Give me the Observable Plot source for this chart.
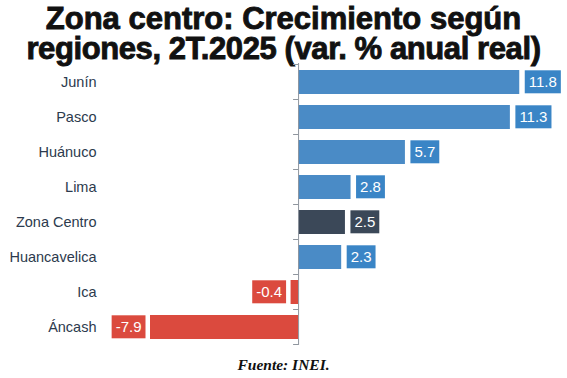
<!DOCTYPE html>
<html>
<head>
<meta charset="utf-8">
<script src="https://cdn.jsdelivr.net/npm/d3@7"></script>
<script src="https://cdn.jsdelivr.net/npm/@observablehq/plot@0.6"></script>
<style>
  html, body { margin: 0; padding: 0; background: #fff; }
  #wrap { position: relative; width: 567px; height: 378px; overflow: hidden; background: #fff; }
  .tline { position: absolute; left: 0; width: 567px; text-align: center; white-space: nowrap;
    font-family: "Liberation Sans", Arial, sans-serif; font-weight: 700; font-size: 31px;
    line-height: 29px; height: 29px; color: #111; -webkit-text-stroke: 0.9px #111; }
  #t1 { top: 4px; }
  #t2 { top: 33.5px; letter-spacing: -0.4px; }
  #chart { position: absolute; left: 0; top: 62px; }
  #caption { position: absolute; left: 0; top: 356px; width: 567px; text-align: center;
    font-family: "Liberation Serif", "Times New Roman", serif; font-weight: 700; font-style: italic;
    font-size: 15.5px; color: #111; }
</style>
</head>
<body>
<div id="wrap">
  <div class="tline" id="t1">Zona centro: Crecimiento según</div>
  <div class="tline" id="t2">regiones, 2T.2025 (var. % anual real)</div>
  <div id="chart"></div>
  <div id="caption">Fuente: INEI.</div>
</div>
<script>
const regions = ["Junín", "Pasco", "Huánuco", "Lima", "Zona Centro", "Huancavelica", "Ica", "Áncash"];
const values = [11.8, 11.3, 5.7, 2.8, 2.5, 2.3, -0.4, -7.9];
const aggregateName = "Zona Centro";

const data = regions.map((r, i) => ({region: r, value: values[i]}));
const colorOf = d => d.value < 0 ? "#db4a3e" : (d.region === aggregateName ? "#3b4858" : "#4a8bc6");
const labelColorOf = d => d.value < 0 ? "#db4a3e" : (d.region === aggregateName ? "#3b4858" : "#3a85c6");

// boundary ticks on the zero axis, drawn from the band scale
function bandTicks(index, scales, values, dimensions) {
  const y = scales.y, x = scales.x;
  const step = y.step(), bw = y.bandwidth();
  const x0 = x(0);
  const g = d3.create("svg:g");
  const ys = regions.map(r => y(r) - (step - bw) / 2);
  ys.push(y(regions[regions.length - 1]) + bw + (step - bw) / 2);
  for (const yy of ys) {
    g.append("line").attr("x1", x0 - 5).attr("x2", x0).attr("y1", yy).attr("y2", yy)
      .attr("stroke", "#8f969e").attr("stroke-width", 1);
  }
  return g.node();
}

const chart = Plot.plot({
  width: 567,
  height: 290,
  marginLeft: 150,
  marginRight: 47.75,
  marginTop: 1,
  marginBottom: 7,
  style: {fontFamily: "Liberation Sans, Arial, sans-serif", color: "#2c3a4d", background: "transparent"},
  x: {domain: [d3.min(values), d3.max(values)], axis: null},
  y: {domain: regions, paddingInner: 0.32, paddingOuter: 0.16, axis: null},
  color: {type: "identity"},
  marks: [
    Plot.barX(data, {x: "value", y: "region", fill: colorOf}),
    Plot.ruleX([0], {stroke: "#8f969e", strokeWidth: 1}),
    bandTicks,
    Plot.axisY({tickSize: 0, tickPadding: 54, fontSize: 14.5, fill: "#2c3a4d", label: null}),
    Plot.text(data.filter(d => d.value >= 0), {
      x: "value", y: "region", text: d => d.value.toFixed(1), fill: labelColorOf,
      textAnchor: "start", dx: 9, fontSize: 15
    }),
    Plot.text(data.filter(d => d.value < 0), {
      x: "value", y: "region", text: d => d.value.toFixed(1), fill: labelColorOf,
      textAnchor: "end", dx: -9, fontSize: 15
    })
  ]
});

document.getElementById("chart").appendChild(chart);

// put boxes behind value labels
const bw = chart.scale("y").bandwidth;
chart.querySelectorAll('g[aria-label="text"] text').forEach(t => {
  const col = t.getAttribute("fill") || t.parentNode.getAttribute("fill");
  const bb = t.getBBox();
  const cy = bb.y + bb.height / 2;
  const rect = document.createElementNS("http://www.w3.org/2000/svg", "rect");
  rect.setAttribute("x", bb.x - 4);
  rect.setAttribute("width", bb.width + 8);
  rect.setAttribute("y", cy - bw / 2 + 0.5);
  rect.setAttribute("height", bw - 1);
  rect.setAttribute("fill", col);
  if (t.getAttribute("transform")) rect.setAttribute("transform", t.getAttribute("transform"));
  t.parentNode.insertBefore(rect, t);
  t.setAttribute("fill", "#ffffff");
});
</script>
</body>
</html>
